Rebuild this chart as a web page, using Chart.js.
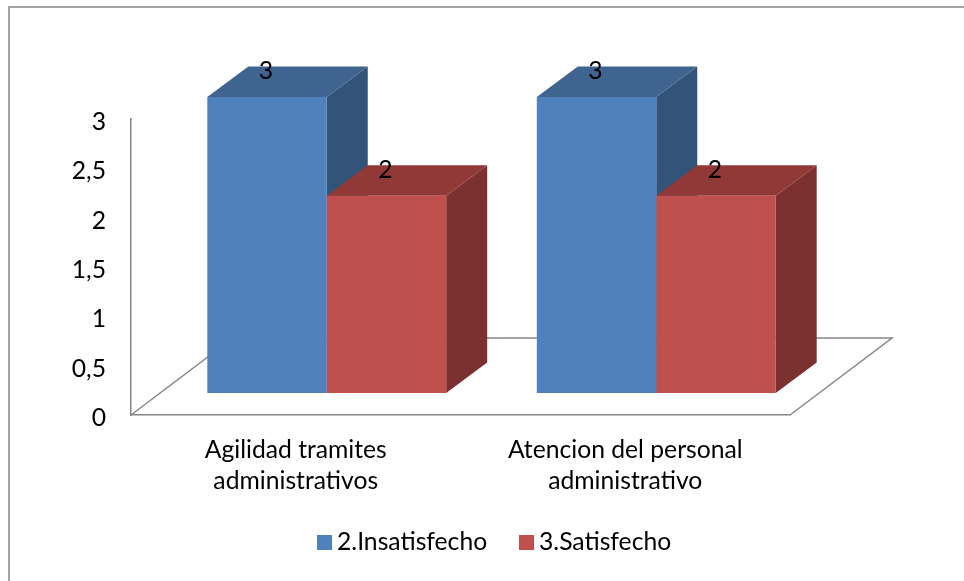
<!DOCTYPE html>
<html>
<head>
<meta charset="utf-8">
<title>Satisfaccion</title>
<script src="https://cdn.jsdelivr.net/npm/chart.js@4/dist/chart.umd.min.js"></script>
<style>
  html, body { margin: 0; padding: 0; background: #fff; }
  canvas { display: block; }
</style>
</head>
<body>
<canvas id="chart" width="964" height="581"></canvas>
<script>
const categories = [["Agilidad tramites", "administrativos"], ["Atencion del personal", "administrativo"]];
const seriesNames = ["2.Insatisfecho", "3.Satisfecho"];
const insatisfecho = [3, 3];
const satisfecho = [2, 2];

const frontColors = ["#4F81BD", "#C0504D"];
const topColors = ["#3F6490", "#913937"];
const sideColors = ["#325479", "#7C3130"];

const FONT = "Lato";
const FONT_SIZE = 24.7;
const LINE = "#868686";

// fake 3D: the bars sit pushed back on the floor
const SHIFT = { x: 31, y: -22 };
const DEPTH = { x: 41, y: -30.5 };
const FLOOR = { x: 102, y: -77 };

function poly(ctx, pts, fill) {
  ctx.beginPath();
  pts.forEach((p, i) => i ? ctx.lineTo(p[0], p[1]) : ctx.moveTo(p[0], p[1]));
  ctx.closePath();
  ctx.fillStyle = fill;
  ctx.fill();
}

const fake3d = {
  id: "fake3d",
  beforeDraw(chart) {
    // outer frame, only left and top show in the picture
    const ctx = chart.ctx;
    ctx.save();
    ctx.strokeStyle = LINE;
    ctx.lineWidth = 1.5;
    ctx.beginPath();
    ctx.moveTo(9, 581);
    ctx.lineTo(9, 7);
    ctx.lineTo(964, 7);
    ctx.stroke();
    ctx.restore();
  },
  beforeDatasetsDraw(chart) {
    const ctx = chart.ctx;
    const x = chart.scales.x;
    const y0 = chart.scales.y.getPixelForValue(0);

    // floor
    ctx.save();
    ctx.strokeStyle = LINE;
    ctx.lineWidth = 1.5;
    ctx.beginPath();
    ctx.moveTo(x.left, y0);
    ctx.lineTo(x.left + FLOOR.x, y0 + FLOOR.y);
    ctx.lineTo(x.right + FLOOR.x, y0 + FLOOR.y);
    ctx.lineTo(x.right, y0);
    ctx.stroke();
    ctx.restore();

    // top and side faces
    chart.data.datasets.forEach((ds, i) => {
      chart.getDatasetMeta(i).data.forEach((bar) => {
        const l = bar.x - bar.width / 2 + SHIFT.x;
        const r = bar.x + bar.width / 2 + SHIFT.x;
        const t = bar.y + SHIFT.y;
        const b = bar.base + SHIFT.y;
        poly(ctx, [[r, t], [r + DEPTH.x, t + DEPTH.y], [r + DEPTH.x, b + DEPTH.y], [r, b]], sideColors[i]);
        poly(ctx, [[l, t], [l + DEPTH.x, t + DEPTH.y], [r + DEPTH.x, t + DEPTH.y], [r, t]], topColors[i]);
      });
    });
  },
  beforeDatasetDraw(chart) {
    chart.ctx.save();
    chart.ctx.translate(SHIFT.x, SHIFT.y);
  },
  afterDatasetDraw(chart) {
    chart.ctx.restore();
  },
  afterDatasetsDraw(chart) {
    const ctx = chart.ctx;
    ctx.save();
    ctx.font = FONT_SIZE + "px " + FONT;
    ctx.fillStyle = "#000";
    ctx.textAlign = "center";
    ctx.textBaseline = "middle";
    chart.data.datasets.forEach((ds, i) => {
      chart.getDatasetMeta(i).data.forEach((bar, j) => {
        ctx.fillText(String(ds.data[j]), bar.x + SHIFT.x - 1, bar.y + SHIFT.y - 26);
      });
    });
    ctx.restore();
  },
  afterDraw(chart) {
    // legend, laid out by hand because the gap box-text is tighter than the built in one
    const ctx = chart.ctx;
    const startX = [317, 519];
    ctx.save();
    ctx.font = FONT_SIZE + "px " + FONT;
    ctx.textAlign = "left";
    ctx.textBaseline = "middle";
    seriesNames.forEach((name, i) => {
      ctx.fillStyle = frontColors[i];
      ctx.fillRect(startX[i], 535, 15, 15);
      ctx.fillStyle = "#000";
      ctx.fillText(name, startX[i] + 20, 542);
    });
    ctx.restore();
  }
};

new Chart(document.getElementById("chart"), {
  type: "bar",
  data: {
    labels: categories,
    datasets: [
      { label: seriesNames[0], data: insatisfecho, backgroundColor: frontColors[0], clip: false },
      { label: seriesNames[1], data: satisfecho, backgroundColor: frontColors[1], clip: false }
    ]
  },
  options: {
    responsive: false,
    animation: false,
    layout: { padding: { top: 119, right: 174, left: 0, bottom: 0 } },
    datasets: { bar: { categoryPercentage: 0.725, barPercentage: 1 } },
    scales: {
      x: {
        grid: { display: false },
        border: { color: LINE, width: 1.5 },
        afterFit(scale) { scale.height = 166; },
        ticks: {
          color: "#000",
          padding: 12,
          maxRotation: 0,
          autoSkip: false,
          font: { family: FONT, size: FONT_SIZE, lineHeight: 1.255 }
        }
      },
      y: {
        min: 0,
        max: 3,
        grid: { display: false },
        border: { color: LINE, width: 1.5 },
        afterFit(scale) { scale.width = 131; },
        ticks: {
          stepSize: 0.5,
          color: "#000",
          padding: 17,
          labelOffset: 3,
          font: { family: FONT, size: FONT_SIZE },
          callback: (v) => String(v).replace(".", ",")
        }
      }
    },
    plugins: {
      legend: { display: false },
      tooltip: { enabled: false }
    }
  },
  plugins: [fake3d]
});
</script>
</body>
</html>
